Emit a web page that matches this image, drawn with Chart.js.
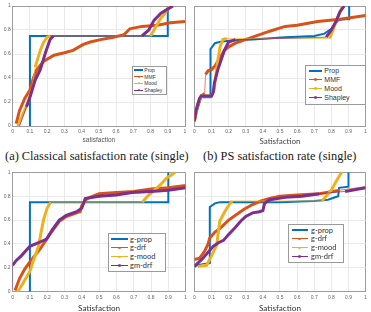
<!DOCTYPE html>
<html><head><meta charset="utf-8">
<script src="https://cdn.jsdelivr.net/npm/chart.js@4"></script>
<style>
html,body{margin:0;padding:0;background:#fff;}
body{width:371px;height:312px;overflow:hidden;position:relative;}
canvas{position:absolute;}
.cap{position:absolute;font-family:"Liberation Serif","Times New Roman",serif;font-size:12.4px;color:#1a1a1a;white-space:nowrap;line-height:14px;}
.lg{position:absolute;background:#fff;border:1px solid #9a9a9a;box-sizing:border-box;}
.it{position:absolute;white-space:nowrap;color:#333;}
.sw{position:absolute;}
</style></head>
<body>
<canvas id="c1" width="190" height="146" style="left:0;top:0"></canvas>
<canvas id="c2" width="181" height="146" style="left:190px;top:0"></canvas>
<canvas id="c3" width="190" height="150" style="left:0;top:166px"></canvas>
<canvas id="c4" width="181" height="150" style="left:190px;top:166px"></canvas>
<div class="cap" style="left:5px;top:149px">(a) Classical satisfaction rate (single)</div>
<div class="cap" style="left:203px;top:149px">(b) PS satisfaction rate (single)</div>
<script>
// ---- tick values ----
const xTickVals = [0,0.1,0.2,0.3,0.4,0.5,0.6,0.7,0.8,0.9,1];
const yTickVals = [0,0.2,0.4,0.6,0.8,1];
// ---- series labels ----
const topLabels = ['Prop','MMF','Mood','Shapley'];
const bottomLabels = ['g-prop','g-drf','g-mood','gm-drf'];

// ---- (a) top-left ----
const tlPropX = [0.1,0.1,0.9,0.9];
const tlPropY = [0,0.75,0.75,1];
const tlMmfX = [0.02,0.04,0.07,0.1,0.12,0.14,0.18,0.24,0.3,0.35,0.41,0.45,0.51,0.585,0.645,0.68,0.75,0.84,0.915,1.0];
const tlMmfY = [0.02,0.13,0.23,0.3,0.4,0.47,0.54,0.59,0.61,0.63,0.68,0.7,0.72,0.74,0.76,0.81,0.83,0.84,0.86,0.87];
const tlMoodX = [0.03,0.06,0.09,0.11,0.13,0.16,0.18,0.2,0.22,0.8,0.82,0.84,0.86,0.88,0.91];
const tlMoodY = [0,0.1,0.2,0.3,0.49,0.63,0.7,0.74,0.75,0.75,0.8,0.85,0.9,0.93,1.0];
const tlShapX = [0.04,0.08,0.1,0.13,0.16,0.19,0.217,0.236,0.75,0.79,0.82,0.86,0.895,0.93];
const tlShapY = [0,0.16,0.24,0.38,0.47,0.61,0.72,0.75,0.75,0.8,0.88,0.94,0.97,1.0];

// ---- (b) top-right ----
const trPropX = [0,0.02,0.04,0.07,0.094,0.094,0.12,0.146,0.2,0.34,0.53,0.7,0.76,0.8,0.84,0.87,0.904,0.904];
const trPropY = [0.05,0.15,0.24,0.24,0.24,0.64,0.69,0.7,0.71,0.72,0.74,0.75,0.77,0.81,0.88,0.89,0.89,1.0];
const trMmfX = [0,0.02,0.04,0.06,0.065,0.08,0.1,0.12,0.15,0.175,0.2,0.24,0.34,0.44,0.53,0.6,0.72,0.85,0.9,1.0];
const trMmfY = [0.05,0.18,0.25,0.27,0.43,0.46,0.47,0.5,0.57,0.63,0.66,0.69,0.74,0.79,0.83,0.84,0.87,0.89,0.9,0.92];
const trMoodX = [0,0.02,0.04,0.1,0.115,0.125,0.137,0.15,0.166,0.19,0.79,0.81,0.83,0.85,0.865];
const trMoodY = [0.04,0.18,0.25,0.25,0.3,0.42,0.55,0.66,0.72,0.73,0.73,0.8,0.88,0.95,1.0];
const trShapX = [0,0.01,0.03,0.04,0.1,0.11,0.117,0.137,0.156,0.175,0.2,0.24,0.77,0.8,0.83,0.85,0.875];
const trShapY = [0.04,0.13,0.23,0.25,0.25,0.28,0.36,0.47,0.55,0.63,0.7,0.72,0.74,0.8,0.88,0.95,1.0];

// ---- bottom-left ----
const blPropX = [0.1,0.1,0.9,0.9];
const blPropY = [0,0.75,0.75,1];
const blDrfX = [0.014,0.04,0.07,0.1,0.16,0.21,0.27,0.31,0.35,0.39,0.4,0.43,0.5,0.6,0.7,0.8,0.9,1.0];
const blDrfY = [0.01,0.11,0.19,0.25,0.36,0.47,0.59,0.63,0.65,0.67,0.72,0.78,0.82,0.83,0.84,0.86,0.87,0.89];
const blMoodX = [0.03,0.06,0.08,0.1,0.12,0.15,0.165,0.18,0.2,0.22,0.75,0.78,0.82,0.85,0.89,0.94];
const blMoodY = [0,0.07,0.12,0.17,0.26,0.38,0.5,0.61,0.7,0.75,0.75,0.8,0.85,0.89,0.95,1.0];
const blGmX = [0,0,0.02,0.05,0.1,0.15,0.196,0.23,0.27,0.31,0.37,0.4,0.42,0.5,0.6,0.69,0.8,0.9,1.0];
const blGmY = [0.02,0.22,0.26,0.3,0.38,0.41,0.44,0.52,0.6,0.64,0.67,0.70,0.78,0.80,0.81,0.83,0.84,0.85,0.87];

// ---- bottom-right ----
const brPropX = [0.01,0.05,0.09,0.09,0.12,0.15,0.3,0.5,0.7,0.78,0.84,0.845,0.9,0.9];
const brPropY = [0.22,0.23,0.24,0.71,0.74,0.75,0.75,0.75,0.76,0.77,0.8,0.87,0.88,1.0];
const brDrfX = [0,0.03,0.06,0.08,0.09,0.12,0.15,0.2,0.24,0.29,0.34,0.39,0.44,0.5,0.6,0.73,0.85,1.0];
const brDrfY = [0.27,0.28,0.34,0.4,0.45,0.5,0.53,0.6,0.64,0.69,0.73,0.76,0.78,0.8,0.81,0.82,0.85,0.88];
const brMoodX = [0.02,0.05,0.07,0.1,0.13,0.14,0.148,0.17,0.19,0.22,0.745,0.77,0.8,0.83,0.86];
const brMoodY = [0.21,0.22,0.22,0.3,0.39,0.5,0.59,0.65,0.7,0.76,0.76,0.8,0.85,0.93,1.0];
const brGmX = [0,0.02,0.05,0.08,0.11,0.14,0.17,0.2,0.24,0.27,0.3,0.34,0.38,0.4,0.41,0.44,0.53,0.63,0.73,0.88,1.0];
const brGmY = [0.21,0.24,0.28,0.33,0.38,0.41,0.43,0.48,0.54,0.59,0.63,0.66,0.67,0.68,0.74,0.77,0.79,0.8,0.82,0.84,0.87];

const COLORS = ['#0072BD','#D95319','#EDB120','#7E2F8E'];
const GRID = '#e9e9e9', BOX = '#9c9c9c';

function buildSets(labels, xs, ys) {
  return labels.map((lab, i) => {
    const w = i === 0 ? 2 : 3;
    return {
      label: lab,
      data: xs[i].map((x, j) => ({x: x, y: ys[i][j]})),
      showLine: true,
      borderColor: COLORS[i],
      backgroundColor: COLORS[i],
      borderWidth: w,
      pointRadius: 0,
      tension: 0,
      order: labels.length - i,
      segment: {
        borderWidth: ctx => {
          if (i === 0) return w;
          const dx = ctx.p1.parsed.x - ctx.p0.parsed.x, dy = ctx.p1.parsed.y - ctx.p0.parsed.y;
          return Math.sqrt(dx*dx + dy*dy) > 0.15 ? 0.7 : w;
        }
      }
    };
  });
}

function fmt(v) { return (v === 0 || v === 1) ? String(v) : String(v); }

function makeChart(id, sets, o) {
  return new Chart(document.getElementById(id), {
    type: 'scatter',
    data: {datasets: sets},
    options: {
      responsive: false, animation: false, devicePixelRatio: 1,
      layout: {padding: o.pad},
      plugins: {legend: {display: false}, tooltip: {enabled: false}},
      scales: {
        x: {
          type: 'linear', min: 0, max: 1,
          afterBuildTicks: s => { s.ticks = xTickVals.map(v => ({value: v})); },
          afterFit: s => { s.height = o.xh; },
          ticks: {font: {size: 5, family: 'Liberation Sans, Arial, sans-serif'}, color: '#666', padding: o.xtp, maxRotation: 0, autoSkip: false, callback: v => fmt(v)},
          grid: {color: c => (c.tick && (c.tick.value === 1 || c.tick.value === 0)) ? BOX : GRID, lineWidth: 1, drawTicks: false},
          border: {color: BOX, width: 1},
          title: {display: true, text: o.title, color: o.tcol, font: {size: o.tsize, family: o.tfam}, padding: {top: 0, bottom: o.tpb}}
        },
        y: {
          type: 'linear', min: 0, max: 1,
          afterBuildTicks: s => { s.ticks = yTickVals.map(v => ({value: v})); },
          afterFit: s => { s.width = o.yw; },
          ticks: {display: o.ylab, font: {size: 5, family: 'Liberation Sans, Arial, sans-serif'}, color: '#666', padding: 2, autoSkip: false, callback: v => fmt(v)},
          grid: {color: c => (c.tick && (c.tick.value === 1 || c.tick.value === 0)) ? BOX : GRID, lineWidth: 1, drawTicks: false},
          border: {color: BOX, width: 1}
        }
      }
    }
  });
}

function legend(chart, L) {
  const d = document.createElement('div'); d.className = 'lg';
  Object.assign(d.style, {left: L.box[0]+'px', top: L.box[1]+'px', width: L.box[2]+'px', height: L.box[3]+'px'});
  document.body.appendChild(d);
  chart.data.datasets.forEach((ds, i) => {
    const y = L.row0 + i * L.step;
    const th = i === 0 ? 2 : 1;
    const ln = document.createElement('div'); ln.className = 'sw';
    Object.assign(ln.style, {left: L.sx[0]+'px', width: (L.sx[1]-L.sx[0])+'px', top: (y - th/2)+'px', height: th+'px', background: ds.borderColor});
    document.body.appendChild(ln);
    if (i > 0) {
      const m = document.createElement('div'); m.className = 'sw';
      const ms = L.ms;
      Object.assign(m.style, {left: ((L.sx[0]+L.sx[1])/2 - ms/2)+'px', top: (y - ms/2)+'px', width: ms+'px', height: ms+'px', background: ds.borderColor, borderRadius: '50%', opacity: 0.8});
      document.body.appendChild(m);
    }
    const t = document.createElement('div'); t.className = 'it'; t.textContent = ds.label;
    Object.assign(t.style, {left: L.tx+'px', top: (y - L.fs*0.6)+'px', fontSize: L.fs+'px', fontFamily: L.fam, lineHeight: (L.fs*1.2)+'px'});
    document.body.appendChild(t);
  });
}

const SANS = '"Liberation Sans", Arial, sans-serif';
const LATO = 'Lato, "Open Sans", sans-serif';

const ch1 = makeChart('c1', buildSets(topLabels, [tlPropX,tlMmfX,tlMoodX,tlShapX], [tlPropY,tlMmfY,tlMoodY,tlShapY]),
  {pad: {top: 6, right: 5, left: 0, bottom: 0}, xh: 20, yw: 12.7, ylab: true, xtp: 3, title: 'satisfaction', tcol: '#555', tsize: 6.5, tfam: SANS, tpb: 2.1});
const ch2 = makeChart('c2', buildSets(topLabels, [trPropX,trMmfX,trMoodX,trShapX], [trPropY,trMmfY,trMoodY,trShapY]),
  {pad: {top: 6, right: 5.4, left: 3, bottom: 0}, xh: 20, yw: 0, ylab: false, xtp: 3, title: 'Satisfaction', tcol: '#444', tsize: 8, tfam: LATO, tpb: 0.2});
const ch3 = makeChart('c3', buildSets(bottomLabels, [blPropX,blDrfX,blMoodX,blGmX], [blPropY,blDrfY,blMoodY,blGmY]),
  {pad: {top: 6.3, right: 3.3, left: 0, bottom: 0}, xh: 24.3, yw: 12.6, ylab: true, xtp: 3, title: 'Satisfaction', tcol: '#333', tsize: 8.2, tfam: LATO, tpb: 2.9});
const ch4 = makeChart('c4', buildSets(bottomLabels, [brPropX,brDrfX,brMoodX,brGmX], [brPropY,brDrfY,brMoodY,brGmY]),
  {pad: {top: 6.3, right: 5.4, left: 2.7, bottom: 0}, xh: 24.3, yw: 0, ylab: false, xtp: 3, title: 'Satisfaction', tcol: '#333', tsize: 8.2, tfam: LATO, tpb: 2.9});

legend(ch1, {box: [132,66,35,29], row0: 70.3, step: 6.57, sx: [134,143], tx: 144.3, fs: 5, fam: SANS, ms: 2});
legend(ch2, {box: [305,65,61,40], row0: 70.7, step: 9, sx: [309,321.7], tx: 324.3, fs: 7, fam: SANS, ms: 2.5});
legend(ch3, {box: [107.7,233.3,58,39], row0: 239, step: 8.9, sx: [111,127.7], tx: 130, fs: 7.5, fam: LATO, ms: 2.5});
legend(ch4, {box: [288.3,224.3,56,39], row0: 230, step: 8.9, sx: [291.7,307.7], tx: 311, fs: 7.5, fam: LATO, ms: 2.5});
</script>
</body></html>
